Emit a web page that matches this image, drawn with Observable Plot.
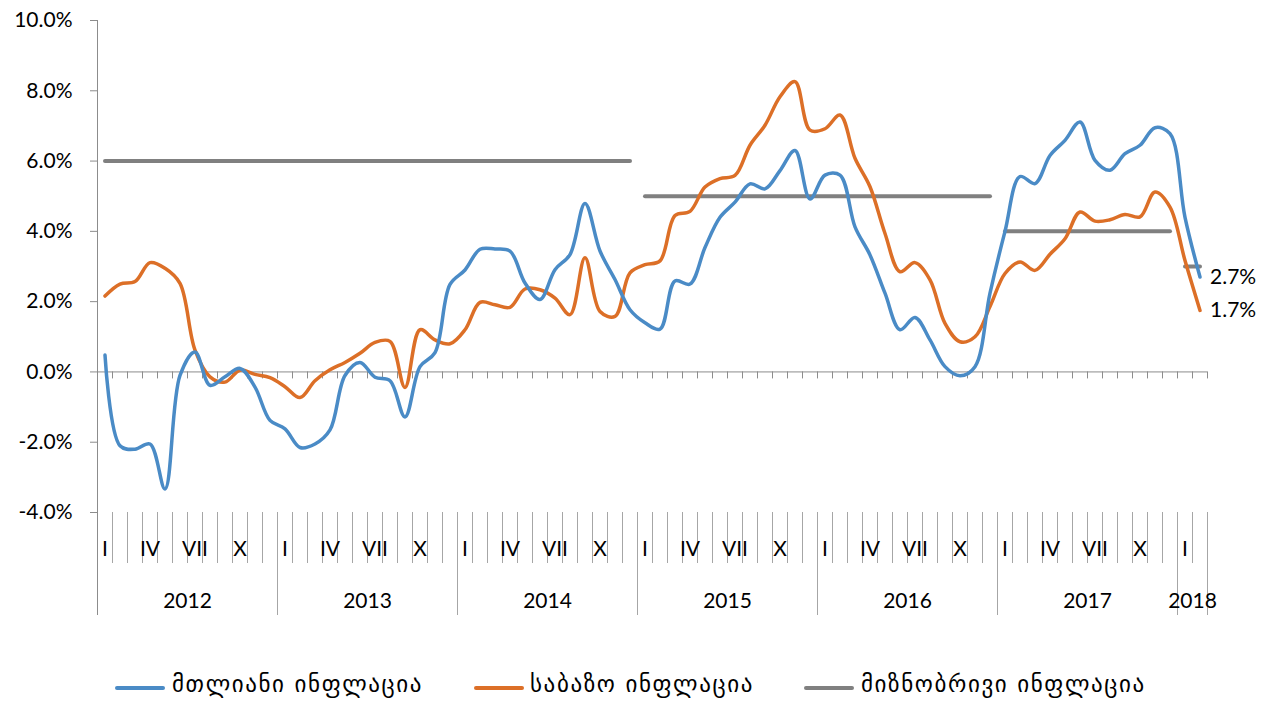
<!DOCTYPE html>
<html>
<head>
<meta charset="utf-8">
<script src="https://cdn.jsdelivr.net/npm/d3@7"></script>
<script src="https://cdn.jsdelivr.net/npm/@observablehq/plot@0.6"></script>
<style>
  html, body { margin: 0; padding: 0; background: #fff; }
  #wrap { position: relative; width: 1272px; height: 705px; font-family: Lato, "DejaVu Sans", sans-serif; }
  #legend { position: absolute; left: 0; top: 668px; width: 1272px; height: 40px; }
  .swatch { position: absolute; top: 18px; width: 50px; height: 4px; border-radius: 2px; }
  .lab { position: absolute; top: 3px; white-space: nowrap; font-size: 23px; letter-spacing: 1.6px; color: #000; font-family: "DejaVu Sans", sans-serif; }
</style>
</head>
<body>
<div id="wrap">
  <div id="chart"></div>
  <div id="legend"></div>
</div>
<script>
// ---- data (monthly, Jan 2012 – Feb 2018) ----
const years = [2012, 2013, 2014, 2015, 2016, 2017, 2018];
const monthsInYear = [12, 12, 12, 12, 12, 12, 2];
const monthLabels = ["I", "", "", "IV", "", "", "VII", "", "", "X", "", ""];
const targetByYear = [6, 6, 6, 5, 5, 4, 3];

const headline = [
  0.48, -2.1, -2.2, -2.05, -3.33, -0.1, 0.57, -0.38, -0.14, 0.1, -0.43, -1.38,
  -1.62, -2.15, -2.05, -1.65, -0.1, 0.27, -0.15, -0.25, -1.28, 0.15, 0.55, 2.49,
  2.9, 3.49, 3.5, 3.44, 2.53, 2.06, 2.91, 3.34, 4.79, 3.44, 2.63, 1.77,
  1.4, 1.22, 2.59, 2.5, 3.54, 4.4, 4.83, 5.35, 5.21, 5.73, 6.3, 4.92,
  5.6, 5.6, 4.13, 3.33, 2.24, 1.2, 1.55, 0.91, 0.15, -0.11, 0.15, 2.24,
  4.0, 5.56, 5.36, 6.16, 6.59, 7.11, 6.02, 5.74, 6.21, 6.45, 6.95, 6.78,
  4.4, 2.7
];
const core = [
  2.16, 2.5, 2.57, 3.11, 2.95, 2.52, 0.62, -0.14, -0.29, 0.05, -0.07, -0.16,
  -0.42, -0.73, -0.25, 0.06, 0.27, 0.53, 0.84, 0.87, -0.44, 1.2, 0.91, 0.8,
  1.2, 1.98, 1.91, 1.84, 2.36, 2.34, 2.1, 1.63, 3.25, 1.72, 1.58, 2.82,
  3.05, 3.16, 4.45, 4.57, 5.26, 5.5, 5.59, 6.45, 7.02, 7.83, 8.26, 6.88,
  6.92, 7.31, 6.08, 5.27, 3.94, 2.85, 3.11, 2.62, 1.38, 0.86, 1.0, 1.86,
  2.8, 3.13, 2.89, 3.35, 3.79, 4.55, 4.29, 4.33, 4.48, 4.41, 5.12, 4.69,
  3.17, 1.75
];
const yTicks = [-4, -2, 0, 2, 4, 6, 8, 10];
const seriesNames = ["მთლიანი ინფლაცია", "საბაზო ინფლაცია", "მიზნობრივი ინფლაცია"];
const endLabels = ["2.7%", "1.7%"];

// ---- build table ----
const rows = [];
const yearSpans = [];
let k = 0;
years.forEach((yr, yi) => {
  const start = k;
  for (let m = 0; m < monthsInYear[yi]; m++) {
    rows.push({i: k, x: k + 0.5, year: yr, label: monthLabels[m],
      headline: headline[k], core: core[k], target: targetByYear[yi]});
    k++;
  }
  yearSpans.push({year: yr, start, end: k, mid: (start + k) / 2});
});
const N = k;
const boundaries = d3.range(1, N + 1);
const yearBounds = new Set(yearSpans.map(d => d.end));
const monthBounds = boundaries.filter(b => !yearBounds.has(b));
const last = rows[N - 1];

const blue = "#4a8bc6", orange = "#dc6f27", gray = "#808080", axisC = "#8c8c8c";
const font = "Lato, 'DejaVu Sans', sans-serif";
const fs = 21;

const chart = Plot.plot({
  width: 1272,
  height: 640,
  marginTop: 20,
  marginBottom: 25,
  marginLeft: 97,
  marginRight: 65,
  style: {background: "#fff", fontFamily: font, overflow: "visible"},
  x: {domain: [0, N], axis: null},
  y: {domain: [-4, 10], range: [512, 20], axis: null},
  marks: [
    Plot.ruleX([0], {stroke: axisC, strokeWidth: 1}),
    Plot.ruleY(yTicks, {x1: 0, x2: 0, insetLeft: -7, stroke: axisC}),
    Plot.text(yTicks, {x: 0, y: d => d, text: d => d.toFixed(1) + "%", textAnchor: "end", dx: -25, fontSize: fs, fill: "#000"}),
    Plot.ruleY([0], {x1: 0, x2: N, stroke: axisC}),
    Plot.ruleX(boundaries, {x: d => d, y1: 0, y2: 0, insetBottom: -7, stroke: axisC}),
    Plot.ruleX(monthBounds, {x: d => d, y1: -4, y2: -4, insetBottom: -51, stroke: "#a6a6a6"}),
    Plot.ruleX([...yearBounds], {x: d => d, y1: -4, y2: -4, insetBottom: -103, stroke: "#a6a6a6"}),
    Plot.text(rows.filter(d => d.label), {x: "x", y: -4, dy: 37, text: "label", fontSize: fs, fill: "#000"}),
    Plot.text(yearSpans, {x: "mid", y: -4, dy: 89, text: d => String(d.year), fontSize: fs, fill: "#000"}),
    Plot.line(rows, {x: "x", y: "target", z: "target", stroke: gray, strokeWidth: 4}),
    Plot.line(rows, {x: "x", y: "core", stroke: orange, strokeWidth: 3.5, curve: "catmull-rom", strokeLinecap: "round"}),
    Plot.line(rows, {x: "x", y: "headline", stroke: blue, strokeWidth: 3.5, curve: "catmull-rom", strokeLinecap: "round"}),
    Plot.text([last], {x: "x", y: "headline", text: () => endLabels[0], textAnchor: "start", dx: 10, fontSize: fs, fill: "#000"}),
    Plot.text([last], {x: "x", y: "core", text: () => endLabels[1], textAnchor: "start", dx: 10, fontSize: fs, fill: "#000"})
  ]
});
document.getElementById("chart").appendChild(chart);

const legendItems = [
  {name: seriesNames[0], color: blue, sx: 115, tx: 172},
  {name: seriesNames[1], color: orange, sx: 474, tx: 530},
  {name: seriesNames[2], color: gray, sx: 804, tx: 861}
];
const lg = document.getElementById("legend");
legendItems.forEach(it => {
  const sw = document.createElement("div");
  sw.className = "swatch"; sw.style.left = it.sx + "px"; sw.style.background = it.color;
  const tx = document.createElement("div");
  tx.className = "lab"; tx.style.left = it.tx + "px"; tx.textContent = it.name;
  lg.appendChild(sw); lg.appendChild(tx);
});
</script>
</body>
</html>
